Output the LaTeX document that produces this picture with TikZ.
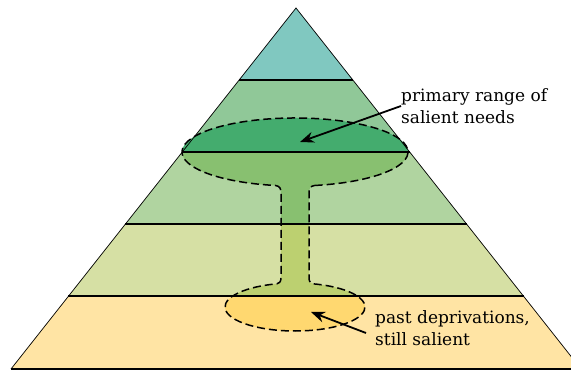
\documentclass[tikz,border=0pt]{standalone}
\usepackage{fontspec}
\setmainfont{DejaVu Serif}
\usetikzlibrary{arrows.meta}
\definecolor{lvA}{HTML}{80C8C0}
\definecolor{lvB}{HTML}{90C898}
\definecolor{lvC}{HTML}{B0D4A0}
\definecolor{lvD}{HTML}{D6E0A4}
\definecolor{lvE}{HTML}{FFE4A4}
\definecolor{ndB}{HTML}{44AC6E}
\definecolor{ndC}{HTML}{88C070}
\definecolor{ndD}{HTML}{BCD070}
\definecolor{ndE}{HTML}{FFD870}
\def\needpath{(314.62,185.52) arc[start angle=-80,end angle=260,x radius=113,y radius=34]
  .. controls (280,185) and (281,182) .. (281,178) -- (281,93)
  .. controls (281,89) and (279,87.5) .. (276.88,87.18)
  arc[start angle=105,end angle=435,x radius=70,y radius=24]
  .. controls (311,87.5) and (309,89) .. (309,93) -- (309,178)
  .. controls (309,182) and (310,185) .. (314.62,185.52) -- cycle}
\begin{document}
\begin{tikzpicture}[x=1pt,y=1pt,>={Stealth[length=14pt,width=11pt]},
	lvline/.style={line width=2pt},
	needline/.style={line width=1.5pt,dash pattern=on 8pt off 4pt},
	lbl/.style={inner sep=0pt,align=left,font=\fontsize{17}{22}\selectfont}]
	\useasboundingbox (0,0) rectangle (571,371);
	% levels of the pyramid
	\foreach \ya/\yb/\c in {363/291/lvA,291/219/lvB,219/147/lvC,147/75/lvD,75/2/lvE}
		\fill[\c]({296-(363-\ya)*0.79},\ya)--({296+(363-\ya)*0.79},\ya)--({296+(363-\yb)*0.79},\yb)--({296-(363-\yb)*0.79},\yb)--cycle;
	% salient needs
	\begin{scope}
		\clip \needpath;
		\foreach \ya/\yb/\c in {291/219/ndB,219/147/ndC,147/75/ndD,75/2/ndE}
			\fill[\c](0,\ya) rectangle (571,\yb);
	\end{scope}
	\draw[line width=0.7pt](11,2)--(296,363)--(581,2);
	\draw[needline] \needpath;
	\foreach \y in {291,219,147,75}\draw[lvline]({296-(363-\y)*0.79},\y)--({296+(363-\y)*0.79},\y);
	\draw[lvline](11,2)--(581,2);
	% labels
	\node[lbl,anchor=west](primary) at (401,265){primary range of\\salient needs};
	\node[lbl,anchor=west](past) at (375,43){past deprivations,\\still salient};
	\coordinate (needtip) at (300,229);
	\coordinate (pasttip) at (311,59);
	\draw[->,line width=1.8pt](primary.west)--(needtip);
	\draw[->,line width=1.8pt]([xshift=-9pt,yshift=-5pt]past.west)--(pasttip);
\end{tikzpicture}
\end{document}
